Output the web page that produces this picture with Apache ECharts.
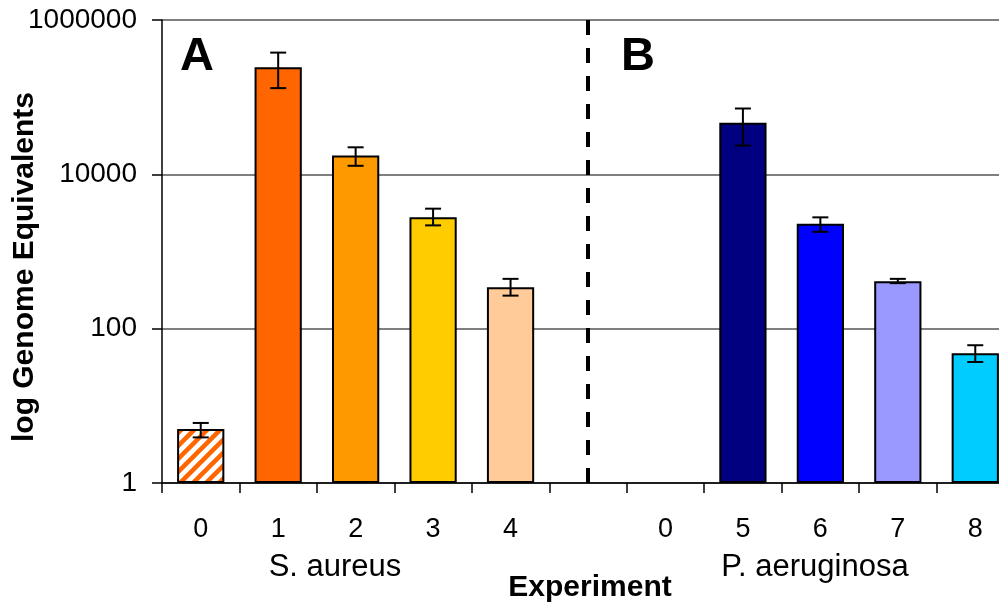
<!DOCTYPE html>
<html><head><meta charset="utf-8">
<script src="https://cdn.jsdelivr.net/npm/echarts@6/dist/echarts.min.js"></script>
<style>html,body{margin:0;padding:0;background:#fff}#c{width:999px;height:604px}</style>
</head><body><div id="c"></div>
<script>
// ---- data ----
const categories = ['0','1','2','3','4','','0','5','6','7','8'];
const means   = [5, 245000, 17500, 2770, 345, null, null, 46500, 2290, 413, 48];
const errLow  = [3.9, 131000, 12900, 2180, 268, null, null, 23600, 1800, 389, 37];
const errHigh = [6.0, 378000, 22400, 3590, 442, null, null, 71300, 2770, 442, 61];
const yTicks = [1, 100, 10000, 1000000];
const groupLabels = ['S. aureus', 'P. aeruginosa'];
const panelLabels = ['A', 'B'];
const axisTitleX = 'Experiment';
const axisTitleY = 'log Genome Equivalents';
const dividerIndex = 5;
// ---- styles ----
const barColors = ['hatch','#FF6600','#FF9900','#FFCC00','#FFCC99',null,null,'#000080','#0000FF','#9999FF','#00CCFF'];
const FONT = "'Liberation Sans', Arial, sans-serif";

function hatch(){
  const s = 13, c = document.createElement('canvas');
  c.width = s; c.height = s;
  const g = c.getContext('2d');
  g.fillStyle = '#fff'; g.fillRect(0,0,s,s);
  g.strokeStyle = '#FF6600'; g.lineWidth = 4.5;
  g.beginPath();
  for (const o of [-s, 0, s]) { g.moveTo(o - 2, s + 2); g.lineTo(o + s + 2, -2); }
  g.stroke();
  return c;
}
const hatchPattern = { image: hatch(), repeat: 'repeat' };

const barData = means.map((v, i) => v == null ? '-' : {
  value: v,
  itemStyle: { color: barColors[i] === 'hatch' ? hatchPattern : barColors[i] }
});
const errData = [];
means.forEach((v, i) => { if (v != null) errData.push([i, errLow[i], errHigh[i]]); });

const chart = echarts.init(document.getElementById('c'), null, { renderer: 'canvas' });
chart.setOption({
  animation: false,
  backgroundColor: '#fff',
  textStyle: { fontFamily: FONT },
  grid: { left: 162, top: 20, width: 852, bottom: 121, containLabel: false, outerBoundsMode: 'none' },
  xAxis: {
    type: 'category',
    data: categories,
    boundaryGap: true,
    axisLine: { show: true, lineStyle: { color: '#000', width: 1.5 } },
    axisTick: { show: true, length: 10, lineStyle: { color: '#000', width: 1.5 } },
    axisLabel: { color: '#000', fontSize: 27, margin: 33, fontFamily: FONT, interval: 0 },
    splitLine: { show: false }
  },
  yAxis: {
    type: 'log',
    logBase: 100,
    min: yTicks[0],
    max: yTicks[yTicks.length - 1],
    axisLine: { show: true, lineStyle: { color: '#000', width: 1.5 } },
    axisTick: { show: true, length: 10, inside: false, lineStyle: { color: '#000', width: 1.5 } },
    axisLabel: { color: '#000', fontSize: 28, margin: 25, fontFamily: FONT,
      formatter: v => String(Math.round(v)) },
    splitLine: { show: true, lineStyle: { color: '#555', width: 1.5 } }
  },
  series: [
    {
      type: 'bar',
      data: barData,
      barWidth: '61%',
      itemStyle: { borderColor: '#000', borderWidth: 2 },
      z: 2,
      markLine: {
        silent: true,
        symbol: ['none', 'none'],
        label: { show: false },
        lineStyle: { color: '#000', width: 4, type: [15, 13] },
        data: [{ xAxis: dividerIndex }]
      }
    },
    {
      type: 'custom',
      data: errData,
      encode: { x: 0, y: [1, 2] },
      z: 5,
      renderItem(params, api) {
        const x = api.value(0);
        const lo = api.coord([x, api.value(1)]);
        const hi = api.coord([x, api.value(2)]);
        const w = 8;
        const st = { stroke: '#000', lineWidth: 2 };
        return { type: 'group', children: [
          { type: 'line', shape: { x1: lo[0], y1: lo[1], x2: hi[0], y2: hi[1] }, style: st },
          { type: 'line', shape: { x1: hi[0] - w, y1: hi[1], x2: hi[0] + w, y2: hi[1] }, style: st },
          { type: 'line', shape: { x1: lo[0] - w, y1: lo[1], x2: lo[0] + w, y2: lo[1] }, style: st }
        ]};
      }
    }
  ],
  graphic: [
    { type: 'text', x: 197, y: 57, style: { text: panelLabels[0], font: 'bold 47px ' + FONT, fill: '#000', textAlign: 'center', textVerticalAlign: 'middle' } },
    { type: 'text', x: 638, y: 57, style: { text: panelLabels[1], font: 'bold 47px ' + FONT, fill: '#000', textAlign: 'center', textVerticalAlign: 'middle' } },
    { type: 'text', x: 335, y: 567, style: { text: groupLabels[0], font: '31px ' + FONT, fill: '#000', textAlign: 'center', textVerticalAlign: 'middle' } },
    { type: 'text', x: 815, y: 567, style: { text: groupLabels[1], font: '31px ' + FONT, fill: '#000', textAlign: 'center', textVerticalAlign: 'middle' } },
    { type: 'text', x: 590, y: 588, style: { text: axisTitleX, font: 'bold 30px ' + FONT, fill: '#000', textAlign: 'center', textVerticalAlign: 'middle' } },
    { type: 'text', x: 25, y: 267, rotation: Math.PI / 2, style: { text: axisTitleY, font: 'bold 30px ' + FONT, fill: '#000', textAlign: 'center', textVerticalAlign: 'middle' } }
  ]
});
</script>
</body></html>
